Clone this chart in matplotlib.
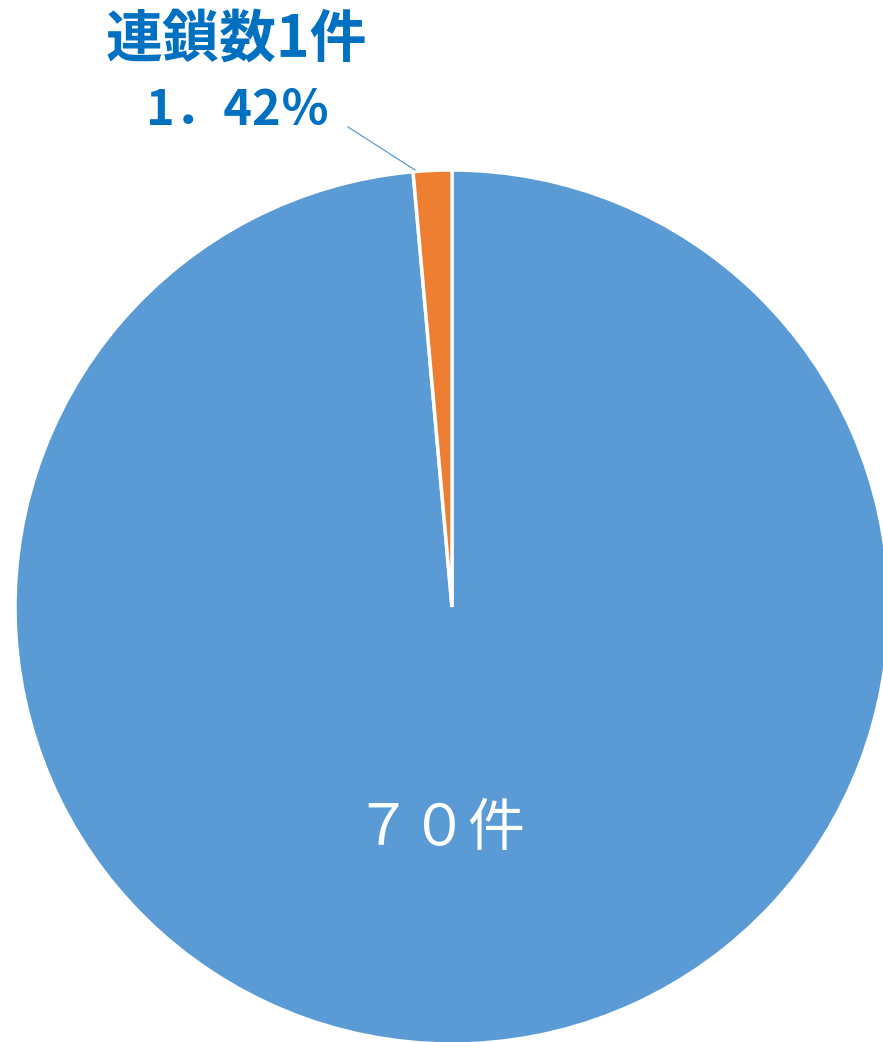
import matplotlib
matplotlib.use("Agg")
import matplotlib.pyplot as plt

plt.rcParams['font.family'] = ['Noto Sans CJK JP', 'DejaVu Sans']

# share of cases by chain count (percent)
shares = [98.58, 1.42]
slice_colors = ["#5B9BD5", "#ED7D31"]
big_label = "７０件"
small_label = "連鎖数1件"
small_pct = "1．42％"

W, H = 883, 1042
cx, cy, r = 452, 607, 437

fig = plt.figure(figsize=(W / 100, H / 100), dpi=100)
ax = fig.add_axes([0, 0, 1, 1])

wedges, _ = ax.pie(shares, colors=slice_colors, startangle=90, counterclock=False,
                   radius=1.0, wedgeprops=dict(edgecolor="white", linewidth=2.5))

# pie() resets the limits, so place the circle afterwards
ax.set_xlim(-cx / r, (W - cx) / r)
ax.set_ylim((cy - H) / r, cy / r)
ax.set_aspect("equal")
ax.axis("off")

ax.text((440 - cx) / r, (cy - 829) / r, big_label, color="white", fontsize=41,
        ha="center", va="center")

ax.text((236 - cx) / r, (cy - 40) / r, small_label, color="#0070C0", fontsize=41,
        fontweight="bold", ha="center", va="center")
ax.text((238 - cx) / r, (cy - 110) / r, small_pct, color="#0070C0", fontsize=35,
        fontweight="bold", ha="center", va="center")

# leader line to the small slice
ax.plot([(348 - cx) / r, (415 - cx) / r], [(cy - 127) / r, (cy - 170) / r],
        color="#5B9BD5", linewidth=0.9)

fig.savefig("out.png", dpi=100, facecolor="white")
